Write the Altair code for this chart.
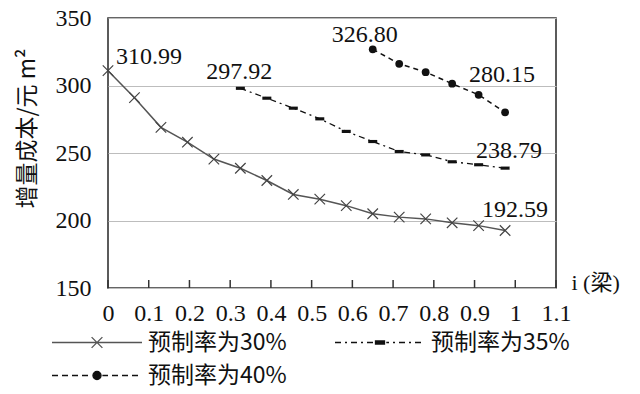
import altair as alt
import pandas as pd

# ---------------- data ----------------
x_i = [0, 0.065, 0.13, 0.195, 0.26, 0.325, 0.39, 0.455, 0.52, 0.585,
       0.65, 0.715, 0.78, 0.845, 0.91, 0.975]
cost_30 = [310.99, 291.0, 269.0, 258.0, 245.5, 238.7, 229.6, 219.3, 215.8,
           211.0, 205.0, 202.5, 201.2, 198.3, 196.2, 192.59]
cost_35 = [297.92, 290.6, 283.2, 275.3, 266.0, 258.5, 251.1, 248.6, 243.5,
           241.3, 238.79]
cost_40 = [326.80, 316.1, 309.9, 301.3, 293.1, 280.15]
series_names = ["预制率为30%", "预制率为35%", "预制率为40%"]
x_ticks = [0, 0.1, 0.2, 0.3, 0.4, 0.5, 0.6, 0.7, 0.8, 0.9, 1.0, 1.1]
y_ticks = [150, 200, 250, 300, 350]
y_title = "增量成本/元 m²"
x_title = "i (梁)"

# labelled points: (series index, point index in series)
label_points = [(0, 0), (1, 0), (2, 0), (2, -1), (1, -1), (0, -1)]
label_offsets = [(41, -14), (-1, -16), (-8, -14), (-3, -37), (4, -17), (10, -21)]

all_costs = [cost_30, cost_35, cost_40]
rows = []
for name, costs in zip(series_names, all_costs):
    xs = x_i[len(x_i) - len(costs):]
    for xv, cv in zip(xs, costs):
        rows.append({"series": name, "i": xv, "cost": cv})
df = pd.DataFrame(rows)
ticks_df = pd.DataFrame({"i": x_ticks})

# ---------------- encodings ----------------
x_enc = alt.X("i:Q",
              scale=alt.Scale(domain=[0, 1.1], nice=False, zero=False),
              axis=alt.Axis(values=x_ticks, format="~g", grid=False, ticks=False,
                            domain=False, labelFont="Liberation Serif",
                            labelFontSize=24, labelColor="#111",
                            labelPadding=13, labelFlush=False, labelOverlap=False,
                            title=x_title, titleFont="Liberation Serif, Noto Sans CJK SC",
                            titleFontSize=22, titleFontWeight="normal", titleColor="#111",
                            titleX=463, titleY=-6, titleAlign="left",
                            titleBaseline="middle"))
y_enc = alt.Y("cost:Q",
              scale=alt.Scale(domain=[150, 350], nice=False, zero=False),
              axis=alt.Axis(values=y_ticks, grid=True, gridColor="#bdbdbd",
                            gridWidth=1, ticks=False, domain=False,
                            labelFont="Liberation Serif", labelFontSize=24,
                            labelColor="#111", labelPadding=17,
                            title=y_title, titleFont="Noto Sans CJK SC",
                            titleFontSize=23, titleFontWeight="normal",
                            titleColor="#111", titleAngle=270,
                            titleX=-81, titleY=110, titleAlign="center",
                            titleBaseline="middle"))

def sub(name):
    return alt.Chart(df).transform_filter(alt.datum.series == name)

s30, s35, s40 = series_names

line30 = sub(s30).mark_line(color="#555", strokeWidth=1.5).encode(x=x_enc, y=y_enc)
line35 = sub(s35).mark_line(color="#111", strokeWidth=1.3,
                            strokeDash=[6, 4, 2, 4]).encode(x=x_enc, y=y_enc)
line40 = sub(s40).mark_line(color="#111", strokeWidth=1.5,
                            strokeDash=[5, 4]).encode(x=x_enc, y=y_enc)

pt30 = sub(s30).mark_point(shape="M-1,-1L1,1M-1,1L1,-1", size=110, filled=False,
                           color="#444", strokeWidth=1.2, opacity=1).encode(x=x_enc, y=y_enc)
pt35 = sub(s35).mark_point(shape="M-1,-0.35H1V0.35H-1Z", size=81, filled=True,
                           color="#111", opacity=1).encode(x=x_enc, y=y_enc)
pt40 = sub(s40).mark_circle(size=60, color="#111", opacity=1).encode(x=x_enc, y=y_enc)

# inward tick marks on the x axis
tick_rules = alt.Chart(ticks_df).mark_rule(color="#333", strokeWidth=1.5).encode(
    x=x_enc, y=alt.value(262), y2=alt.value(270))

# text labels
text_layers = []
for (si, pi), (dx, dy) in zip(label_points, label_offsets):
    costs = all_costs[si]
    xs = x_i[len(x_i) - len(costs):]
    tdf = pd.DataFrame({"i": [xs[pi]], "cost": [costs[pi]],
                        "t": ["%.2f" % costs[pi]]})
    text_layers.append(alt.Chart(tdf).mark_text(
        font="Liberation Serif", fontSize=24, color="#111", align="center",
        baseline="middle", dx=dx, dy=dy).encode(x=x_enc, y=y_enc, text="t:N"))

# ---------------- legend symbols (line + marker) ----------------
U = 45.0  # px per unit of the legend symbol path

def dashed(pattern_px, skip):
    segs = []
    pos = -1.0
    k = 0
    while pos < 1.0:
        L = pattern_px[k % len(pattern_px)] / U
        if k % 2 == 0:
            a, b = pos, min(pos + L, 1.0)
            if b <= -skip or a >= skip:
                segs.append("M%.3f,0H%.3f" % (a, b))
            else:
                if a < -skip:
                    segs.append("M%.3f,0H%.3f" % (a, -skip))
                if b > skip:
                    segs.append("M%.3f,0H%.3f" % (skip, b))
        pos += L
        k += 1
    return "".join(segs)

sym30 = "M-1,0H1M-0.12,-0.12L0.12,0.12M-0.12,0.12L0.12,-0.12"
sym35 = dashed([6, 4, 2, 4], 0.14) + "M-0.1,-0.035H0.1V0.035H-0.1Z"
sym40 = dashed([6, 4], 0.12) + "M0.09,0A0.09,0.09 0 1,1 -0.09,0A0.09,0.09 0 1,1 0.09,0Z"

leg = alt.Legend(title=None, orient="none", direction="horizontal",
                 legendX=-57, legendY=308, columns=2,
                 columnPadding=47, rowPadding=0, padding=0, symbolSize=8100,
                 symbolStrokeWidth=1.3, symbolOpacity=1, clipHeight=33,
                 labelFont="Noto Sans CJK SC", labelFontSize=23, labelColor="#111",
                 labelOffset=5, labelLimit=400)

legend_layer = alt.Chart(df).mark_point(filled=True, opacity=0).encode(
    x=x_enc, y=y_enc,
    color=alt.Color("series:N", scale=alt.Scale(domain=series_names,
                                               range=["#555", "#111", "#111"]), legend=leg),
    stroke=alt.Stroke("series:N", scale=alt.Scale(domain=series_names,
                                                 range=["#555", "#111", "#111"]), legend=leg),
    shape=alt.Shape("series:N", scale=alt.Scale(domain=series_names,
                                               range=[sym30, sym35, sym40]), legend=leg),
)

chart = alt.layer(
    tick_rules, line30, line35, line40, pt30, pt35, pt40, *text_layers, legend_layer
).properties(
    width=448, height=270,
    autosize=alt.AutoSizeParams(type="none"),
    padding={"left": 100, "top": 10, "right": 76, "bottom": 104},
    background="white",
).configure_view(stroke="#333", strokeWidth=1.6)

chart.save("out.html", embed_options={"renderer": "svg", "actions": False})
